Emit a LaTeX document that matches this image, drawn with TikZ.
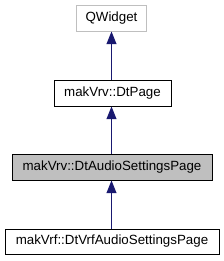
\documentclass[tikz,border=0pt]{standalone}
\usepackage{fontspec}
\setmainfont{Liberation Sans}
\usepackage{xcolor}
\usetikzlibrary{arrows.meta,positioning,calc}
\definecolor{edgeblue}{HTML}{191970}
\definecolor{boxgray}{HTML}{BFBFBF}

\begin{document}
\begin{tikzpicture}[x=0.75pt, y=-0.75pt, every node/.style={font=\fontsize{10}{12}\selectfont},
cls/.style={draw=black,rectangle,align=center,minimum height=19.5pt,inner sep=0pt,line width=0.75pt},
inh/.style={draw=edgeblue,line width=0.7pt,-{Triangle[width=7.5pt,length=9.5pt,fill=edgeblue]}}]
\useasboundingbox (0,0) rectangle (224,261);
\node[cls,draw=boxgray,minimum width=52.5pt] (qwidget) at (111.5,18) {QWidget};
\node[cls,minimum width=87.75pt] (dtpage) at (112.5,93) {makVrv::DtPage};
\node[cls,fill=boxgray,minimum width=150pt] (audio) at (112,167) {makVrv::DtAudioSettingsPage};
\node[cls,minimum width=160.5pt,minimum height=18.75pt] (vrfaudio) at (112,241.5) {makVrf::DtVrfAudioSettingsPage};
\draw[inh] (dtpage.north -| qwidget.south) -- (qwidget.south);
\draw[inh] (audio.north -| qwidget.south) -- (qwidget.south |- dtpage.south);
\draw[inh] (vrfaudio.north -| qwidget.south) -- (qwidget.south |- audio.south);
\end{tikzpicture}
\end{document}
